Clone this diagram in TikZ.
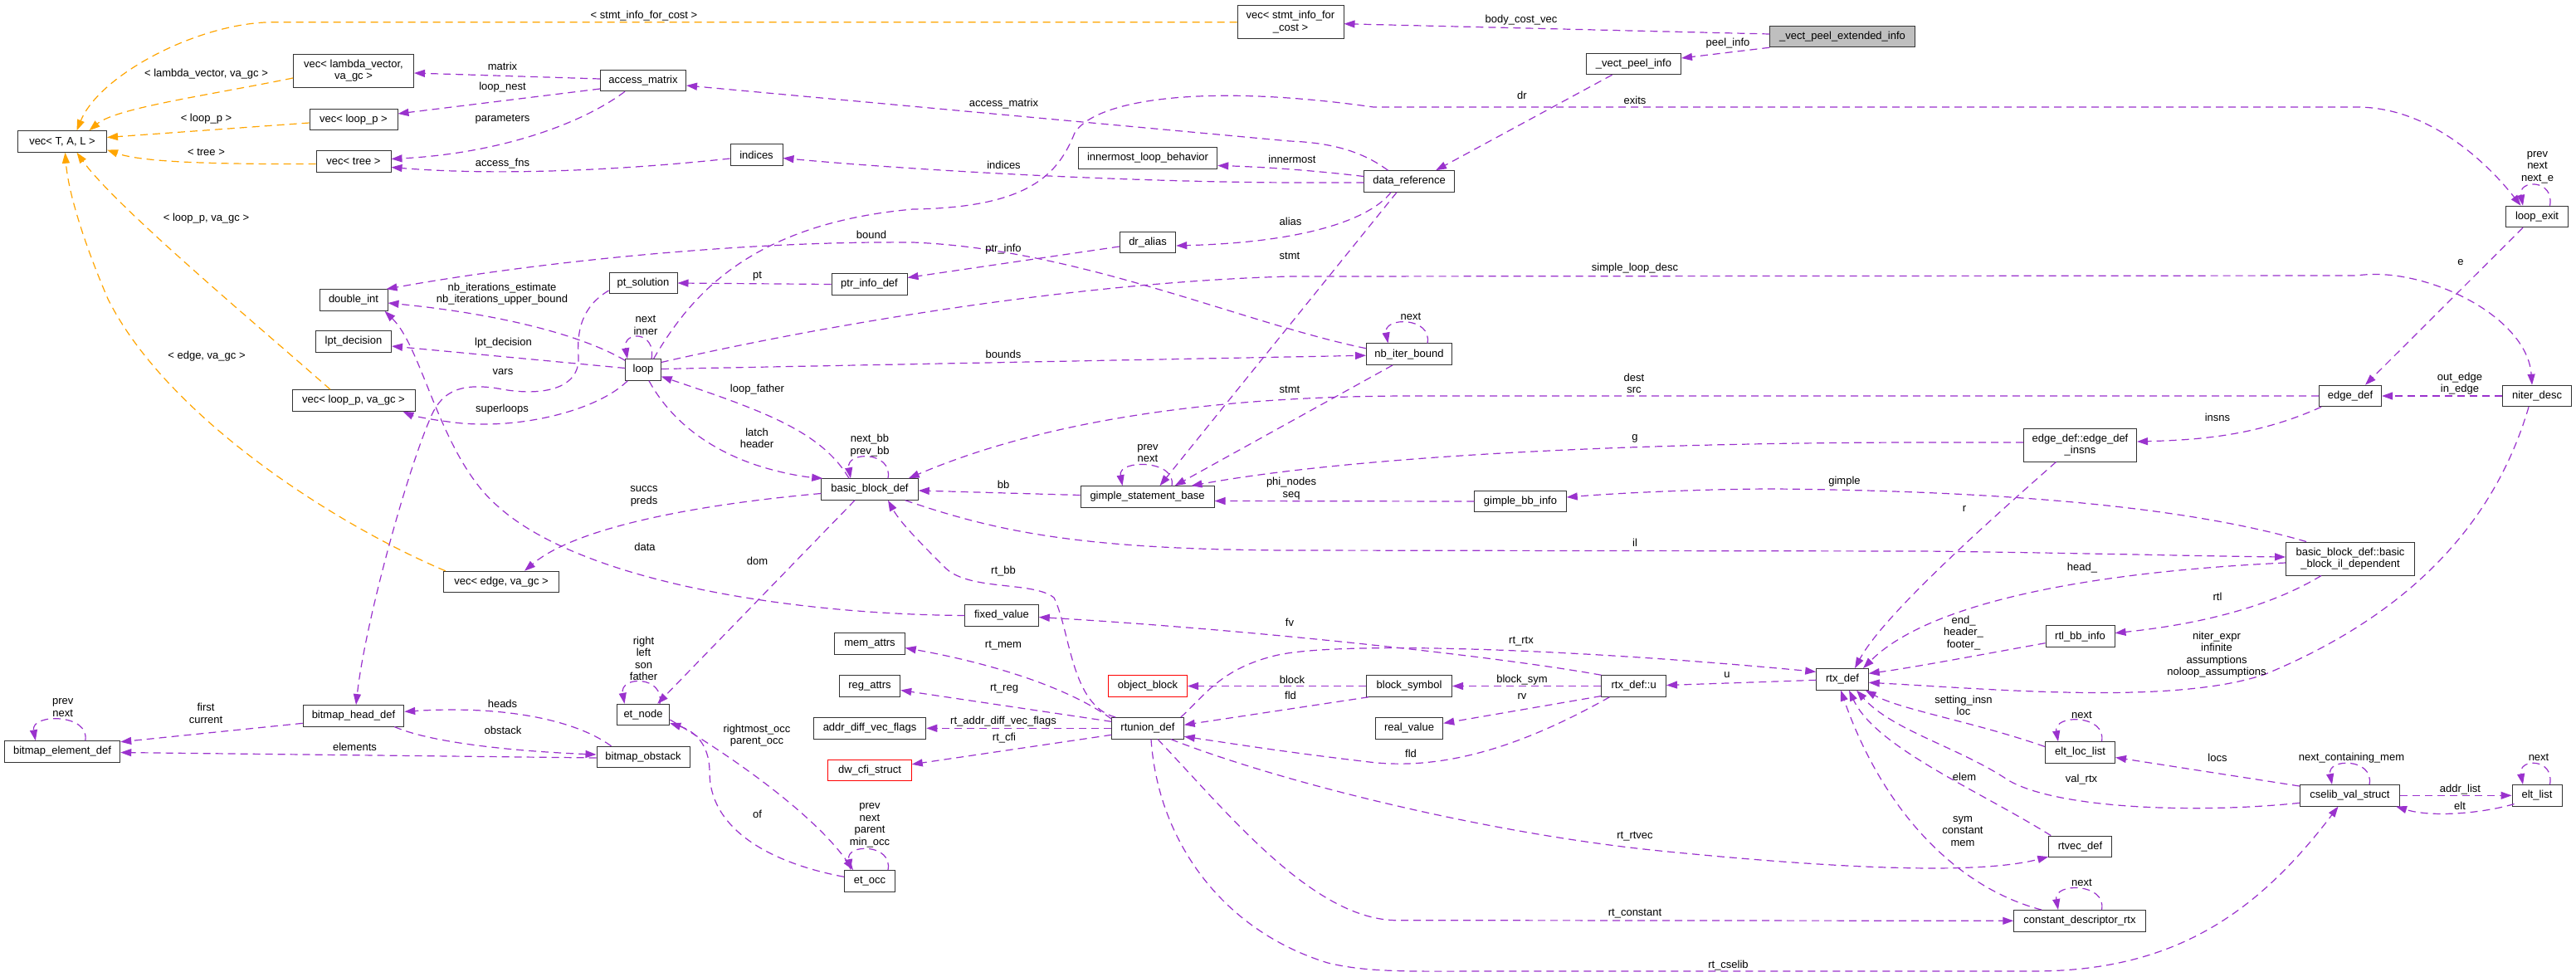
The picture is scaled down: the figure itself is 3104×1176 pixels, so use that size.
\documentclass[tikz,border=0pt]{standalone}
\usepackage{fontspec}
\setmainfont{Liberation Sans}
\usetikzlibrary{arrows.meta,calc}
\definecolor{usecol}{HTML}{9A32CD}
\definecolor{tplcol}{HTML}{FFA500}
\definecolor{rootgray}{HTML}{BFBFBF}
\newcommand{\dxf}{\fontsize{13}{14.5}\selectfont}
\tikzset{
  nb/.style={draw=black!80, fill=white, line width=1pt, minimum height=25.5pt, inner sep=0pt, font=\dxf, text=black},
  nb2/.style={nb, minimum height=40pt, align=center},
  lb/.style={font=\dxf, inner sep=0pt, align=center, text=black},
  ue/.style={draw=usecol, line width=1.2pt, dash pattern=on 9pt off 6pt, -{Triangle[length=13pt,width=9pt]}},
  te/.style={ue, draw=tplcol},
}
\begin{document}
\begin{tikzpicture}[x=1pt,y=-1pt]
\useasboundingbox (0,0) rectangle (3104,1176);
\fill[white] (0,0) rectangle (3104,1176);

% ---------------- nodes ----------------
\node[nb,minimum width=107pt] (vecTAL) at (75,170.5) {vec< T, A, L >};
\node[nb2,minimum width=145pt] (vecLam) at (426,85) {vec< lambda\_vector,\\va\_gc >};
\node[nb,minimum width=106pt] (vecLP) at (426,144) {vec< loop\_p >};
\node[nb,minimum width=90pt] (vecTree) at (426,194.5) {vec< tree >};
\node[nb2,minimum width=128pt] (vecSIC) at (1555,26.7) {vec< stmt\_info\_for\\\_cost >};
\node[nb,minimum width=103pt] (am) at (775,97) {access\_matrix};
\node[nb,minimum width=63pt] (indices) at (911.5,186.5) {indices};
\node[nb,minimum width=167.5pt] (ilb) at (1383,190.5) {innermost\_loop\_behavior};
\node[nb,minimum width=108.5pt] (dref) at (1698,218.5) {data\_reference};
\node[nb,minimum width=174.5pt,fill=rootgray] (vpei) at (2220,44) {\_vect\_peel\_extended\_info};
\node[nb,minimum width=114pt] (vpi) at (1968.5,77) {\_vect\_peel\_info};
\node[nb,minimum width=67.5pt] (dralias) at (1383,292) {dr\_alias};
\node[nb,minimum width=91pt] (ptrinfo) at (1047.5,342.5) {ptr\_info\_def};
\node[nb,minimum width=82pt] (ptsol) at (775,341) {pt\_solution};
\node[nb,minimum width=82pt] (dint) at (426,361.5) {double\_int};
\node[nb,minimum width=91pt] (lptd) at (426,411.5) {lpt\_decision};
\node[nb,minimum width=148pt] (vecLPva) at (426,482.5) {vec< loop\_p, va\_gc >};
\node[nb,minimum width=42.5pt] (loop) at (775,445.5) {loop};
\node[nb,minimum width=103pt] (nib) at (1698,426.7) {nb\_iter\_bound};
\node[nb,minimum width=75pt] (loopexit) at (3057,261) {loop\_exit};
\node[nb,minimum width=75pt] (edgedef) at (2832,477) {edge\_def};
\node[nb,minimum width=83pt] (niter) at (3057,477) {niter\_desc};
\node[nb2,minimum width=136pt] (edins) at (2506.5,536) {edge\_def::edge\_def\\\_insns};
\node[nb,minimum width=116.5pt] (bbd) at (1048,589.5) {basic\_block\_def};
\node[nb,minimum width=161pt] (gsb) at (1382.5,598.5) {gimple\_statement\_base};
\node[nb,minimum width=110.5pt] (gbi) at (1832,604) {gimple\_bb\_info};
\node[nb,minimum width=139.5pt] (vecEdge) at (604,701) {vec< edge, va\_gc >};
\node[nb2,minimum width=155pt] (bbil) at (2832,673) {basic\_block\_def::basic\\\_block\_il\_dependent};
\node[nb,minimum width=88.5pt] (fixval) at (1207,741.5) {fixed\_value};
\node[nb,minimum width=84.5pt] (memattrs) at (1048,775.5) {mem\_attrs};
\node[nb,minimum width=83pt] (rtlbb) at (2506.5,766.7) {rtl\_bb\_info};
\node[nb,minimum width=62.5pt] (rtxdef) at (2220,818.3) {rtx\_def};
\node[nb,minimum width=77.5pt] (rtxu) at (1968.7,826.5) {rtx\_def::u};
\node[nb,minimum width=103pt] (blocksym) at (1698,826.5) {block\_symbol};
\node[nb,minimum width=81.5pt] (realval) at (1698,877.3) {real\_value};
\node[nb,minimum width=95pt,draw=red] (objblock) at (1383,826.5) {object\_block};
\node[nb,minimum width=73.5pt] (regattrs) at (1048,826.5) {reg\_attrs};
\node[nb,minimum width=135.5pt] (addrdiff) at (1048,877.3) {addr\_diff\_vec\_flags};
\node[nb,minimum width=100.5pt,draw=red] (dwcfi) at (1048,927.8) {dw\_cfi\_struct};
\node[nb,minimum width=86.5pt] (rtunion) at (1383,877.3) {rtunion\_def};
\node[nb,minimum width=63.5pt] (etnode) at (775,861) {et\_node};
\node[nb,minimum width=121.5pt] (bhd) at (426,862.3) {bitmap\_head\_def};
\node[nb,minimum width=112pt] (bobs) at (775,912) {bitmap\_obstack};
\node[nb,minimum width=139.5pt] (bed) at (75,905.5) {bitmap\_element\_def};
\node[nb,minimum width=61pt] (etocc) at (1048,1061.3) {et\_occ};
\node[nb,minimum width=84pt] (eltloc) at (2506.5,906.5) {elt\_loc\_list};
\node[nb,minimum width=120pt] (cvs) at (2831.5,958.3) {cselib\_val\_struct};
\node[nb,minimum width=60pt] (eltlist) at (3057,958.3) {elt\_list};
\node[nb,minimum width=75.5pt] (rtvec) at (2506.5,1019.8) {rtvec\_def};
\node[nb,minimum width=158.5pt] (cdr) at (2506,1109.3) {constant\_descriptor\_rtx};

% ---------------- template edges ----------------
\draw[te] (vecSIC.west) -- (330,26.7) .. controls (240,26.7) and (120,90) .. ($(vecTAL.north)+(17.5,0)$);
\draw[te] ($(vecLam.west)+(0,9)$) .. controls (250,115) and (140,130) .. ($(vecTAL.north)+(32.5,0)$);
\draw[te] ($(vecLP.west)+(0,4)$) -- ($(vecTAL.east)+(0,-5)$);
\draw[te] ($(vecTree.west)+(0,3)$) .. controls (250,198) and (170,195) .. ($(vecTAL.east)+(0,10)$);
\draw[te] ($(vecLPva.north)+(-28,0)$) .. controls (320,400) and (140,250) .. ($(vecTAL.south)+(17.5,0)$);
\draw[te] ($(vecEdge.north west)+(3,0)$) .. controls (400,630) and (200,500) .. (130,360) .. controls (100,290) and (82,230) .. ($(vecTAL.south)+(3.5,0)$);

% ---------------- usage edges ----------------
\draw[ue] ($(am.west)+(0,-2)$) -- ($(vecLam.east)+(0,3)$);
\draw[ue] ($(am.west)+(0,10)$) -- ($(vecLP.east)+(0,-7)$);
\draw[ue] ($(am.south)+(-22,0)$) .. controls (700,150) and (600,185) .. ($(vecTree.east)+(0,-3)$);
\draw[ue] ($(indices.west)+(0,4.5)$) .. controls (750,205) and (600,212) .. ($(vecTree.east)+(0,7)$);
\draw[ue] ($(dref.north)+(-25.5,0)$) .. controls (1645,185) and (1610,172) .. (1554,170) -- ($(am.east)+(0,6)$);
\draw[ue] ($(dref.west)+(0,1.5)$) -- (1554,220) .. controls (1350,219) and (1100,205) .. ($(indices.east)+(0,4)$);
\draw[ue] ($(dref.west)+(0,-6)$) .. controls (1580,205) and (1520,201) .. ($(ilb.east)+(0,9)$);
\draw[ue] ($(dref.south)+(-22,0)$) .. controls (1650,265) and (1570,292) .. ($(dralias.east)+(0,4)$);
\draw[ue] ($(dref.south)+(-15,0)$) -- ($(gsb.north)+(15,0)$);
\draw[ue] ($(vpei.west)+(0,-3)$) -- ($(vecSIC.east)+(0,2)$);
\draw[ue] (vpei.south west) -- ($(vpi.east)+(0,-7)$);
\draw[ue] ($(vpi.south)+(-26,0)$) -- ($(dref.north)+(32,0)$);
\draw[ue] ($(loop.north)+(12.5,0)$) .. controls (830,360) and (900,270) .. (1100,252) .. controls (1240,250) and (1275,210) .. (1295,160) .. controls (1320,120) and (1450,100) .. (1655,129) -- (2840,129) .. controls (2930,129) and (3000,200) .. ($(loopexit.north)+(-19.5,0)$);
\draw[ue] ($(loopexit.north)+(15.5,0)$) .. controls ($(loopexit.north)+(21.5,-32)$) and ($(loopexit.north)+(-23,-32)$) .. ($(loopexit.north)+(-17,0)$);
\draw[ue] ($(loopexit.south)+(-17,0)$) -- ($(edgedef.north)+(18,0)$);
\draw[ue] (niter.west) -- (edgedef.east);
\draw[ue] (edgedef.west) -- (1700,477) .. controls (1450,477) and (1250,510) .. ($(bbd.north east)+(-12,0)$);
\draw[ue] ($(edgedef.south west)+(3,0)$) .. controls (2720,525) and (2650,530) .. ($(edins.east)+(0,-4)$);
\draw[ue] ($(edins.west)+(0,-3)$) -- (2324,533) .. controls (1900,533) and (1600,555) .. ($(gsb.north east)+(-28,0)$);
\draw[ue] ($(edins.south)+(-29,0)$) .. controls (2400,625) and (2270,740) .. ($(rtxdef.north)+(15,0)$);
\draw[ue] (gbi.west) -- ($(gsb.east)+(0,5)$);
\draw[ue] ($(bbil.north west)+(25,0)$) .. controls (2650,615) and (2450,592) .. (2140,589) .. controls (2050,589) and (1950,594) .. ($(gbi.east)+(0,-5)$);
\draw[ue] ($(bbd.south east)+(-16,0)$) .. controls (1200,640) and (1300,662) .. (1554,663) -- (2320,664) .. controls (2500,666) and (2650,670) .. ($(bbil.west)+(0,-2)$);
\draw[ue] ($(bbil.west)+(0,5)$) .. controls (2500,690) and (2320,730) .. ($(rtxdef.north)+(25,0)$);
\draw[ue] ($(bbil.south)+(-35,0)$) .. controls (2720,740) and (2620,755) .. ($(rtlbb.east)+(0,-4)$);
\draw[ue] ($(rtlbb.west)+(0,8)$) .. controls (2380,790) and (2300,805) .. ($(rtxdef.east)+(0,-7)$);
\draw[ue] ($(niter.south)+(-10,0)$) .. controls (3000,650) and (2880,750) .. (2730,812) .. controls (2620,850) and (2400,830) .. ($(rtxdef.east)+(0,4)$);
\draw[ue] ($(eltloc.west)+(0,-7)$) .. controls (2380,870) and (2290,855) .. ($(rtxdef.south east)+(-4,0)$);
\draw[ue] ($(cvs.west)+(0,9)$) .. controls (2650,980) and (2480,975) .. (2420,940) .. controls (2360,900) and (2280,880) .. ($(rtxdef.south)+(17,0)$);
\draw[ue] ($(rtvec.north west)+(3,0)$) .. controls (2380,950) and (2260,900) .. ($(rtxdef.south)+(8,0)$);
\draw[ue] ($(cdr.north)+(-46,0)$) .. controls (2360,1070) and (2270,980) .. ($(rtxdef.south)+(-2,0)$);
\draw[ue] ($(rtunion.north east)+(-4,0)$) .. controls (1450,840) and (1470,805) .. (1540,789) .. controls (1620,772) and (1900,782) .. ($(rtxdef.west)+(0,-9)$);
\draw[ue] ($(rtxdef.west)+(0,1)$) -- ($(rtxu.east)+(0,-1)$);
\draw[ue] (rtxu.north west) .. controls (1800,790) and (1500,758) .. ($(fixval.east)+(0,2)$);
\draw[ue] (rtxu.west) -- (blocksym.east);
\draw[ue] ($(rtxu.west)+(0,12)$) -- ($(realval.east)+(0,-6)$);
\draw[ue] ($(rtxu.south west)+(10,0)$) .. controls (1850,890) and (1750,930) .. (1650,918) .. controls (1540,905) and (1480,895) .. ($(rtunion.east)+(0,10)$);
\draw[ue] (blocksym.west) -- (objblock.east);
\draw[ue] ($(blocksym.south west)+(3,0)$) -- ($(rtunion.east)+(0,-4)$);
\draw[ue] ($(rtunion.north west)+(0,2)$) .. controls (1290,830) and (1200,800) .. ($(memattrs.east)+(0,5)$);
\draw[ue] ($(rtunion.north west)+(5,0)$) .. controls (1290,850) and (1290,760) .. (1270,720) .. controls (1245,700) and (1170,712) .. (1140,685) .. controls (1110,655) and (1085,630) .. ($(bbd.south)+(22,0)$);
\draw[ue] ($(rtunion.west)+(0,-8)$) -- ($(regattrs.east)+(0,5)$);
\draw[ue] (rtunion.west) -- (addrdiff.east);
\draw[ue] ($(rtunion.west)+(0,8)$) -- ($(dwcfi.east)+(0,-7)$);
\draw[ue] ($(rtunion.south east)+(-16,0)$) .. controls (1550,945) and (1800,1005) .. (2000,1025) .. controls (2200,1045) and (2380,1055) .. ($(rtvec.south west)+(0,-1)$);
\draw[ue] ($(rtunion.south)+(12,0)$) .. controls (1480,980) and (1580,1105) .. (1680,1108.7) -- (cdr.west);
\draw[ue] ($(rtunion.south)+(4,0)$) .. controls (1395,1010) and (1470,1120) .. (1600,1160) .. controls (1650,1172) and (1700,1170) .. (1800,1170) -- (2450,1170) .. controls (2620,1170) and (2720,1100) .. ($(cvs.south)+(-14,0)$);
\draw[ue] ($(cvs.north west)+(0,2)$) -- ($(eltloc.east)+(0,6)$);
\draw[ue] (cvs.east) -- (eltlist.west);
\draw[ue] ($(eltlist.south west)+(3,-3)$) .. controls (2990,980) and (2930,985) .. ($(cvs.south east)+(-5,0)$);
\draw[ue] ($(loop.north west)+(0,2)$) .. controls (700,403) and (600,378) .. ($(dint.east)+(0,3.5)$);
\draw[ue] ($(nib.west)+(0,-7)$) .. controls (1500,390) and (1300,300) .. (1100,292) .. controls (900,290) and (650,315) .. ($(dint.north east)+(-2,0)$);
\draw[ue] (fixval.west) .. controls (950,740) and (700,700) .. (600,610) .. controls (530,550) and (510,420) .. ($(dint.south east)+(-4,0)$);
\draw[ue] ($(loop.west)+(0,-2)$) -- ($(lptd.east)+(0,5.5)$);
\draw[ue] ($(ptsol.west)+(0,9)$) .. controls (700,370) and (695,400) .. (697,430) .. controls (699,470) and (650,478) .. (600,468) .. controls (550,460) and (530,475) .. (518,505) .. controls (490,570) and (440,750) .. ($(bhd.north)+(3,0)$);
\draw[ue] ($(loop.south west)+(3,0)$) .. controls (720,495) and (620,520) .. (540,508) .. controls (515,505) and (495,500) .. ($(vecLPva.south east)+(-15,0)$);
\draw[ue] ($(loop.east)+(0,-1)$) -- ($(nib.west)+(0,1.5)$);
\draw[ue] ($(loop.south)+(7,0)$) .. controls (810,510) and (860,545) .. (920,563) .. controls (950,572) and (975,575) .. ($(bbd.north west)+(2,0)$);
\draw[ue] ($(bbd.north)+(-25,0)$) .. controls (990,520) and (920,495) .. ($(loop.east)+(0,8)$);
\draw[ue] ($(gsb.west)+(0,-2)$) -- ($(bbd.east)+(0,1.5)$);
\draw[ue] ($(bbd.west)+(0,5)$) .. controls (870,605) and (700,630) .. ($(vecEdge.north)+(28,0)$);
\draw[ue] ($(bbd.south)+(-18,0)$) -- ($(etnode.north east)+(-15,0)$);
\draw[ue] ($(etocc.west)+(0,-5)$) .. controls (930,1040) and (855,1000) .. (855,930) .. controls (855,895) and (835,880) .. ($(etnode.south east)+(0,-3)$);
\draw[ue] ($(etnode.east)+(0,6)$) .. controls (880,910) and (980,980) .. ($(etocc.north)+(-20,0)$);
\draw[ue] ($(bobs.north west)+(18,0)$) .. controls (690,865) and (600,850) .. ($(bhd.east)+(0,-5)$);
\draw[ue] ($(bhd.south east)+(-12,0)$) .. controls (520,895) and (620,905) .. ($(bobs.west)+(0,-3)$);
\draw[ue] ($(bobs.west)+(0,1)$) -- ($(bed.east)+(0,1)$);
\draw[ue] ($(bhd.west)+(0,9)$) -- ($(bed.north east)+(0,1.5)$);
\draw[ue] (ptrinfo.west) -- (ptsol.east);
\draw[ue] ($(dralias.west)+(0,5)$) -- ($(ptrinfo.east)+(0,-8)$);
\draw[ue] ($(loop.east)+(0,-9)$) .. controls (1000,390) and (1300,340) .. (1554,333) -- (2840,332) .. controls (2920,320) and (3045,380) .. ($(niter.north)+(-6,0)$);
\draw[ue] ($(nib.south)+(-20,0)$) -- ($(gsb.north east)+(-48,0)$);

% ---------------- self loops ----------------
\draw[ue] ($(loop.north)+(10,0)$) .. controls ($(loop.north)+(16,-34)$) and ($(loop.north)+(-25,-34)$) .. ($(loop.north)+(-19,0)$);
\draw[ue] ($(bbd.north)+(22,0)$) .. controls ($(bbd.north)+(28,-33)$) and ($(bbd.north)+(-29,-33)$) .. ($(bbd.north)+(-23,0)$);
\draw[ue] ($(gsb.north)+(29.5,0)$) .. controls ($(gsb.north)+(35.5,-32)$) and ($(gsb.north)+(-36,-32)$) .. ($(gsb.north)+(-30,0)$);
\draw[ue] ($(nib.north)+(22,0)$) .. controls ($(nib.north)+(28,-32)$) and ($(nib.north)+(-31.5,-32)$) .. ($(nib.north)+(-25.5,0)$);
\draw[ue] ($(bed.north)+(27.8,0)$) .. controls ($(bed.north)+(33.8,-33)$) and ($(bed.north)+(-38.2,-33)$) .. ($(bed.north)+(-32.2,0)$);
\draw[ue] ($(etnode.north)+(20,0)$) .. controls ($(etnode.north)+(26,-34)$) and ($(etnode.north)+(-28.5,-34)$) .. ($(etnode.north)+(-22.5,0)$);
\draw[ue] ($(etocc.north)+(22,0)$) .. controls ($(etocc.north)+(28,-32)$) and ($(etocc.north)+(-29,-32)$) .. ($(etocc.north)+(-23,0)$);
\draw[ue] ($(eltloc.north)+(26,0)$) .. controls ($(eltloc.north)+(32,-33)$) and ($(eltloc.north)+(-32.5,-33)$) .. ($(eltloc.north)+(-26.5,0)$);
\draw[ue] ($(cvs.north)+(23.5,0)$) .. controls ($(cvs.north)+(29.5,-32)$) and ($(cvs.north)+(-27.5,-32)$) .. ($(cvs.north)+(-21.5,0)$);
\draw[ue] ($(eltlist.north)+(15.5,0)$) .. controls ($(eltlist.north)+(21.5,-32)$) and ($(eltlist.north)+(-23,-32)$) .. ($(eltlist.north)+(-17,0)$);
\draw[ue] ($(cdr.north)+(26.5,0)$) .. controls ($(cdr.north)+(32.5,-33)$) and ($(cdr.north)+(-32,-33)$) .. ($(cdr.north)+(-26,0)$);

% ---------------- labels ----------------
\node[lb] (l1) at (776,19) {< stmt\_info\_for\_cost >};
\node[lb] (l2) at (248.5,89) {< lambda\_vector, va\_gc >};
\node[lb] (l3) at (248.5,143) {< loop\_p >};
\node[lb] (l4) at (248.5,183) {< tree >};
\node[lb] (l5) at (248.5,263) {< loop\_p, va\_gc >};
\node[lb] (l6) at (249,429) {< edge, va\_gc >};
\node[lb] (l7) at (605.5,80) {matrix};
\node[lb] (l8) at (605.5,105) {loop\_nest};
\node[lb] (l9) at (605.5,144) {parameters};
\node[lb] (l10) at (605.5,197) {access\_fns};
\node[lb] (l11) at (1209.5,125) {access\_matrix};
\node[lb] (l12) at (1209.5,199) {indices};
\node[lb] (l13) at (1557,192) {innermost};
\node[lb] (l14) at (1555,267) {alias};
\node[lb] (l15) at (1554,308) {stmt};
\node[lb] (l16) at (1833,24) {body\_cost\_vec};
\node[lb] (l17) at (2082,52) {peel\_info};
\node[lb] (l18) at (1834,115) {dr};
\node[lb] (l19) at (1970,121) {exits};
\node[lb] (l20) at (3057.5,201.5) {prev\\next\\next\_e};
\node[lb] (l21) at (2965,316) {e};
\node[lb] (l22) at (2964,462) {out\_edge\\in\_edge};
\node[lb] (l23) at (1969,462) {dest\\src};
\node[lb] (l24) at (2672,502.7) {insns};
\node[lb] (l25) at (1970,528.7) {g};
\node[lb] (l26) at (2367,612.7) {r};
\node[lb] (l27) at (1556,588.5) {phi\_nodes\\seq};
\node[lb] (l28) at (2222.5,580) {gimple};
\node[lb] (l29) at (1970,654) {il};
\node[lb] (l30) at (2509,683.7) {head\_};
\node[lb] (l31) at (2672,719) {rtl};
\node[lb] (l32) at (2366,762.5) {end\_\\header\_\\footer\_};
\node[lb] (l33) at (2671,788.7) {niter\_expr\\infinite\\assumptions\\noloop\_assumptions};
\node[lb] (l34) at (2366,849.7) {setting\_insn\\loc};
\node[lb] (l35) at (2672,912.7) {locs};
\node[lb] (l36) at (2833.5,912.7) {next\_containing\_mem};
\node[lb] (l37) at (3059,912.7) {next};
\node[lb] (l38) at (2508.5,861) {next};
\node[lb] (l39) at (2367,936) {elem};
\node[lb] (l40) at (2508,939) {val\_rtx};
\node[lb] (l41) at (2964.5,950.7) {addr\_list};
\node[lb] (l42) at (2964,970.7) {elt};
\node[lb] (l43) at (2365,1001.3) {sym\\constant\\mem};
\node[lb] (l44) at (2508.5,1063.7) {next};
\node[lb] (l45) at (2081,812.7) {u};
\node[lb] (l46) at (1833,772.7) {rt\_rtx};
\node[lb] (l47) at (1554,750) {fv};
\node[lb] (l48) at (1834,818.7) {block\_sym};
\node[lb] (l49) at (1834,838.7) {rv};
\node[lb] (l50) at (1700,908.3) {fld};
\node[lb] (l51) at (1557,818.7) {block};
\node[lb] (l52) at (1555,838.3) {fld};
\node[lb] (l53) at (1209,777.3) {rt\_mem};
\node[lb] (l54) at (1209,687.7) {rt\_bb};
\node[lb] (l55) at (1210,829.3) {rt\_reg};
\node[lb] (l56) at (1209,869.3) {rt\_addr\_diff\_vec\_flags};
\node[lb] (l57) at (1210,889.3) {rt\_cfi};
\node[lb] (l58) at (1970,1007.7) {rt\_rtvec};
\node[lb] (l59) at (1970,1100.3) {rt\_constant};
\node[lb] (l60) at (2082.5,1162.7) {rt\_cselib};
\node[lb] (l61) at (605,354) {nb\_iterations\_estimate\\nb\_iterations\_upper\_bound};
\node[lb] (l62) at (1050,283) {bound};
\node[lb] (l63) at (1209,300) {ptr\_info};
\node[lb] (l64) at (912.5,333) {pt};
\node[lb] (l65) at (778,392) {next\\inner};
\node[lb] (l66) at (606.5,412.7) {lpt\_decision};
\node[lb] (l67) at (606,448) {vars};
\node[lb] (l68) at (605,492.7) {superloops};
\node[lb] (l69) at (1209,426.7) {bounds};
\node[lb] (l70) at (1700,381) {next};
\node[lb] (l71) at (1970,323) {simple\_loop\_desc};
\node[lb] (l72) at (1554,469) {stmt};
\node[lb] (l73) at (912.5,469) {loop\_father};
\node[lb] (l74) at (912,528) {latch\\header};
\node[lb] (l75) at (1048,536.5) {next\_bb\\prev\_bb};
\node[lb] (l76) at (1383,546) {prev\\next};
\node[lb] (l77) at (1209,583.7) {bb};
\node[lb] (l78) at (776,598) {succs\\preds};
\node[lb] (l79) at (777,659) {data};
\node[lb] (l80) at (912.5,675.7) {dom};
\node[lb] (l81) at (775.5,793.5) {right\\left\\son\\father};
\node[lb] (l82) at (75.7,852.7) {prev\\next};
\node[lb] (l83) at (248,859.3) {first\\current};
\node[lb] (l84) at (605.5,847.7) {heads};
\node[lb] (l85) at (606,880) {obstack};
\node[lb] (l86) at (427.5,900) {elements};
\node[lb] (l87) at (912,886.3) {rightmost\_occ\\parent\_occ};
\node[lb] (l88) at (912.5,981) {of};
\node[lb] (l89) at (1048,994.3) {prev\\next\\parent\\min\_occ};
\end{tikzpicture}
\end{document}
